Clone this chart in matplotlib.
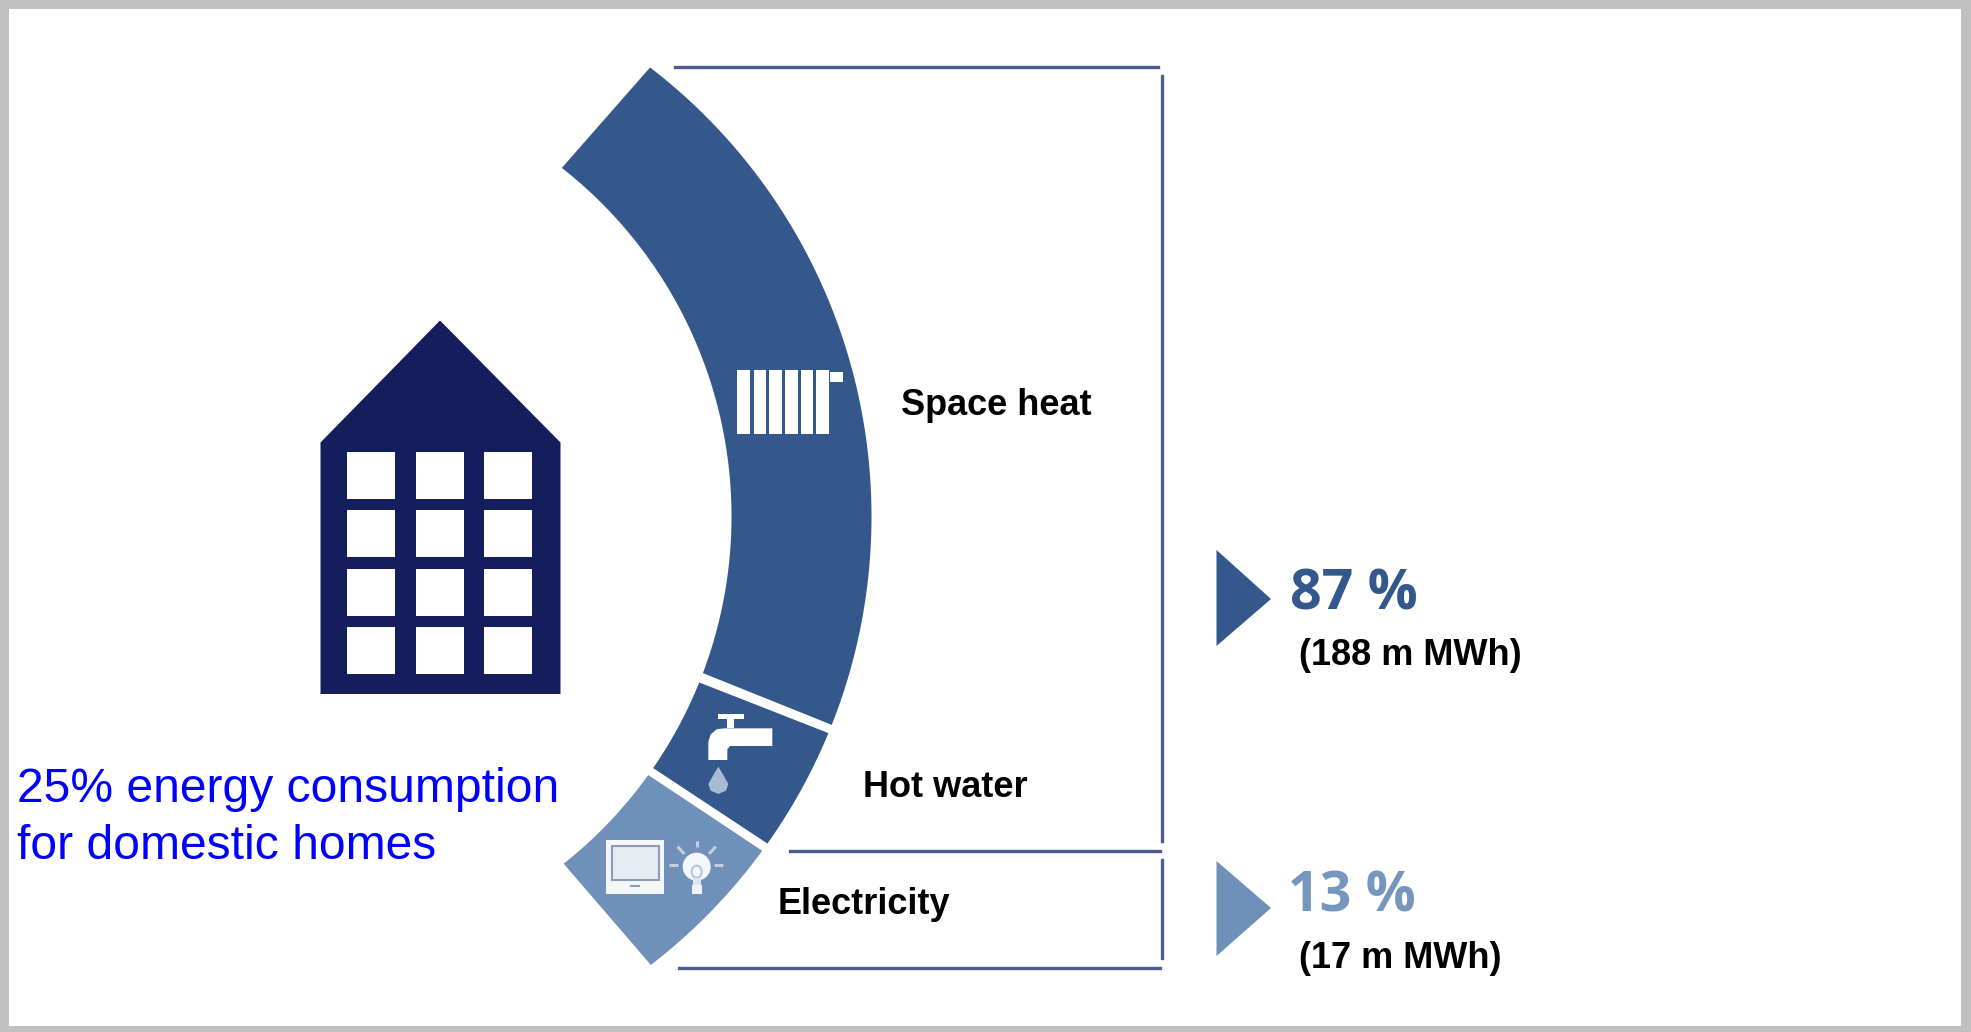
import numpy as np
import matplotlib
matplotlib.use("Agg")
import matplotlib.pyplot as plt
from matplotlib.patches import Polygon, Rectangle, Circle, Ellipse

# === Values ===
segment_names = ["Space heat", "Hot water", "Electricity"]
# degrees on the outer and on the inner arc, the two arcs have different centres
outer_angles = [(-52.5, 21.6), (22.5, 35.3), (36.2, 52.4)]
inner_angles = [(-51.9, 20.7), (22.0, 34.6), (35.7, 51.6)]
segment_colors = ["#34578c", "#34578c", "#6f90b8"]
share_labels = ["87 %", "13 %"]
mwh_labels = ["(188 m MWh)", "(17 m MWh)"]
share_colors = ["#34578c", "#7596bd"]
caption_lines = ["25% energy consumption", "for domestic homes"]

HOUSE = "#141e5c"
LINE = "#4d5c8e"
BOLD = "Liberation Sans"

fig = plt.figure(figsize=(19.71, 10.32), dpi=100, facecolor="#c0c0c0")
ax = fig.add_axes([0, 0, 1, 1])
ax.set_xlim(0, 1971)
ax.set_ylim(1032, 0)
ax.axis("off")

# white page inside the grey border
ax.add_patch(Rectangle((9, 9), 1952, 1017, fc="white", ec="none"))


def arc(cx, cy, r, a0, a1):
    t = np.radians(np.linspace(a0, a1, 120))
    return np.column_stack([cx + r * np.cos(t), cy + r * np.sin(t)])


# === Arc ===
for (o0, o1), (i0, i1), col in zip(outer_angles, inner_angles, segment_colors):
    pts = np.vstack([arc(305.5, 516.5, 566, o0, o1), arc(288.5, 516.5, 443, i1, i0)])
    ax.add_patch(Polygon(pts, fc=col, ec="none"))

# === House ===
ax.add_patch(Polygon([(320.5, 694), (320.5, 442.5), (440, 320.5), (560.5, 442.5), (560.5, 694)],
                     fc=HOUSE, ec="none"))
for wx in [347, 416, 484]:
    for wy in [452, 510, 569, 627]:
        ax.add_patch(Rectangle((wx, wy), 48, 47, fc="white", ec="none"))

# === Brackets ===
ax.plot([675, 1158], [66.5, 66.5], color=LINE, lw=2.4)
ax.plot([1161.5, 1161.5], [76, 841], color=LINE, lw=2.4)
ax.plot([790, 1160], [851, 851], color=LINE, lw=2.4)
ax.plot([1161.5, 1161.5], [860, 958], color=LINE, lw=2.4)
ax.plot([679, 1160], [968, 968], color=LINE, lw=2.4)

# === Radiator icon ===
for x0, x1 in [(736.7, 750), (753.5, 765.5), (769, 781.5), (785, 797.5), (800.5, 812.5), (816, 828.5)]:
    ax.add_patch(Rectangle((x0, 370), x1 - x0, 64, fc="white", ec="none"))
ax.add_patch(Rectangle((830, 372), 13, 10, fc="white", ec="none"))


# === Tap icon (coordinates taken from the zoomed crop) ===
def z(x, y):
    return 530 + x / 3, 640 + y / 3


ax.add_patch(Polygon([z(565, 222), z(642, 222), z(642, 238), z(565, 238)], fc="white", ec="none"))
ax.add_patch(Polygon([z(592, 238), z(612, 238), z(612, 265), z(592, 265)], fc="white", ec="none"))
ax.add_patch(Polygon([z(535, 360), z(535, 305), z(542, 283), z(560, 268), z(580, 265), z(727, 265),
                      z(727, 318), z(600, 318), z(592, 328), z(592, 360)], fc="white", ec="none"))
ax.add_patch(Polygon([z(565, 380), z(580, 405), z(595, 432), z(588, 452), z(565, 462), z(542, 452),
                      z(535, 432), z(550, 405)], fc="#a9bbd3", ec="none"))

# === TV and bulb icons ===
ax.add_patch(Polygon([z(228, 600), z(402, 600), z(402, 762), z(228, 762)], fc="#f4f6f9", ec="none"))
ax.add_patch(Polygon([z(245, 619), z(386, 619), z(386, 720), z(245, 720)], fc="#e6ebf2", ec="#8a9cb8", lw=1.5))
ax.add_patch(Polygon([z(300, 735), z(330, 735), z(330, 742), z(300, 742)], fc="#8a9cb8", ec="none"))
bx, by = z(500, 680)
ax.add_patch(Circle((bx, by), 14, fc="#f4f6f9", ec="none"))
ax.add_patch(Ellipse(z(500, 695), 10, 12, fc="none", ec="#b8c5d8", lw=1.5))
ax.add_patch(Polygon([z(485, 735), z(515, 735), z(515, 762), z(485, 762)], fc="#f0f3f7", ec="none"))
ax.add_patch(Polygon([z(488, 715), z(512, 715), z(512, 735), z(488, 735)], fc="#dfe6ef", ec="none"))
for p0, p1 in [((500, 604), (500, 620)), ((443, 620), (463, 642)), ((557, 620), (537, 642)),
               ((418, 675), (443, 675)), ((552, 675), (578, 675))]:
    ax.plot(*zip(z(*p0), z(*p1)), color="#c3cfe0", lw=2.2, solid_capstyle="butt")

# === Share triangles ===
ax.add_patch(Polygon([(1216.5, 550), (1271, 599), (1216.5, 646)], fc=share_colors[0], ec="none"))
ax.add_patch(Polygon([(1216.5, 861), (1271, 908), (1216.5, 956)], fc="#6f90b8", ec="none"))

# === Text ===
ax.text(901, 415, segment_names[0], fontsize=26, fontweight="bold", family=BOLD, va="baseline")
ax.text(863, 797, segment_names[1], fontsize=26, fontweight="bold", family=BOLD, va="baseline")
ax.text(778, 914, segment_names[2], fontsize=26, fontweight="bold", family=BOLD, va="baseline")

ax.text(1290, 609, share_labels[0], fontsize=40, fontweight="bold", family="Open Sans",
        color=share_colors[0], va="baseline")
ax.text(1288, 912, share_labels[1], fontsize=40, fontweight="bold", family="Open Sans",
        color=share_colors[1], va="baseline")
ax.text(1299, 665, mwh_labels[0], fontsize=26, fontweight="bold", family=BOLD, va="baseline")
ax.text(1299, 968, mwh_labels[1], fontsize=26, fontweight="bold", family=BOLD, va="baseline")

ax.text(17, 802, caption_lines[0], fontsize=34.6, family="Liberation Sans", color="#0000ff", va="baseline")
ax.text(17, 859, caption_lines[1], fontsize=34.6, family="Liberation Sans", color="#0000ff", va="baseline")

fig.savefig("out.png", dpi=100, facecolor=fig.get_facecolor())
